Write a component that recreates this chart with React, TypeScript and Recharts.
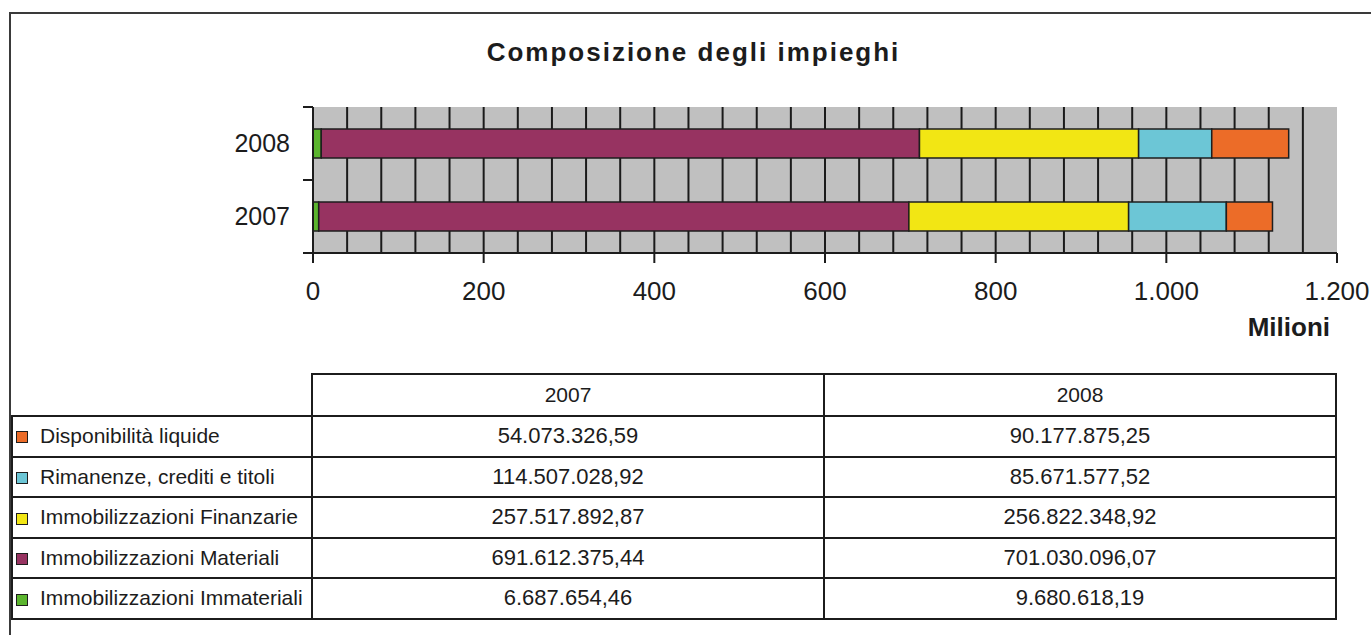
import React from 'react';
import { BarChart, Bar, XAxis, YAxis, CartesianGrid } from 'recharts';

const FONT = '"Liberation Sans", Arial, Helvetica, sans-serif';

// ---- data ----
const years = ['2007', '2008'];
const immateriali = [6687654.46, 9680618.19];
const materiali = [691612375.44, 701030096.07];
const finanziarie = [257517892.87, 256822348.92];
const rimanenze = [114507028.92, 85671577.52];
const disponibilita = [54073326.59, 90177875.25];

const seriesKeys = ['immateriali', 'materiali', 'finanziarie', 'rimanenze', 'disponibilita'];
const seriesNames = [
  'Immobilizzazioni Immateriali',
  'Immobilizzazioni Materiali',
  'Immobilizzazioni Finanzarie',
  'Rimanenze, crediti e titoli',
  'Disponibilità liquide',
];
const seriesValues = [immateriali, materiali, finanziarie, rimanenze, disponibilita];
const seriesColors = ['#5bb52e', '#973361', '#f2e614', '#6cc6d6', '#ec6c28'];

const xTicks = [0, 200, 400, 600, 800, 1000, 1200];
const gridTicks = [40, 80, 120, 160, 200, 240, 280, 320, 360, 400, 440, 480, 520, 560, 600, 640, 680, 720, 760, 800, 840, 880, 920, 960, 1000, 1040, 1080, 1120, 1160];

const title = 'Composizione degli impieghi';
const unitLabel = 'Milioni';

// chart data (values in millions)
const chartData = years.map((y, i) => {
  const row: any = { year: y };
  seriesKeys.forEach((k, s) => {
    row[k] = seriesValues[s][i] / 1e6;
  });
  return row;
});

const groupThousands = (s: string) => s.replace(/\B(?=(\d{3})+(?!\d))/g, '.');
const fmtTick = (v: number) => groupThousands(String(v));
const fmtEuro = (v: number) => {
  const [int, dec] = v.toFixed(2).split('.');
  return groupThousands(int) + ',' + dec;
};

const INK = '#1c1c1c';

const gridGenerator = (props: any) => {
  const sc = props && props.xAxis ? props.xAxis.scale : null;
  if (!sc) return [];
  const f = typeof sc === 'function' ? (v: number) => sc(v) : (v: number) => sc.map(v);
  return gridTicks.map((t) => f(t));
};

// category tick: label plus tick marks at the band boundaries
const YearTick = (props: any) => {
  const { x, y, payload } = props;
  const half = payload && payload.offset ? payload.offset : 0;
  const axisX = x + 23; // x is label anchor (axis - tickSize - tickMargin)
  return (
    <g>
      {half > 0 && (
        <>
          <line x1={axisX - 10} x2={axisX} y1={y - half} y2={y - half} stroke={INK} strokeWidth={2} />
          <line x1={axisX - 10} x2={axisX} y1={y + half} y2={y + half} stroke={INK} strokeWidth={2} />
        </>
      )}
      <text x={x} y={y} dy="0.355em" textAnchor="end" fontSize={25} fill={INK} fontFamily={FONT}>
        {payload.value}
      </text>
    </g>
  );
};

export default function App() {
  // table layout
  const tLeft = 12;
  const c1 = 312;
  const c2 = 824;
  const tRight = 1336;
  const headTop = 374;
  const headH = 42;
  const rowH = 40.6;
  const tableRows = [4, 3, 2, 1, 0]; // series index, top to bottom
  const rowTop = (r: number) => headTop + headH + r * rowH;
  const tBottom = rowTop(tableRows.length);
  const line = 2;

  const hLine = (y: number, x1: number, x2: number, key: string) => (
    <div key={key} style={{ position: 'absolute', left: x1 - 1, top: y - 1, width: x2 - x1 + 2, height: line, background: INK }} />
  );
  const vLine = (x: number, y1: number, y2: number, key: string) => (
    <div key={key} style={{ position: 'absolute', left: x - 1, top: y1 - 1, width: line, height: y2 - y1 + 2, background: INK }} />
  );

  return (
    <div style={{ position: 'absolute', left: 0, top: 0, width: 1371, height: 635, background: '#fff', fontFamily: FONT, overflow: 'hidden', color: INK }}>
      {/* outer frame */}
      <div style={{ position: 'absolute', left: 9, top: 12, width: 1400, height: 700, borderLeft: '2px solid #3a3a3a', borderTop: '2px solid #3a3a3a' }} />

      {/* title */}
      <div style={{ position: 'absolute', left: 0, width: 1387, top: 39, textAlign: 'center', fontSize: 26, lineHeight: '26px', fontWeight: 'bold', letterSpacing: 2, whiteSpace: 'nowrap' }}>
        {title}
      </div>

      <div style={{ position: 'absolute', left: 0, top: 0 }}>
        <BarChart
          width={1371}
          height={330}
          data={chartData}
          layout="vertical"
          margin={{ top: 107, right: 34, bottom: 0, left: 0 }}
          barCategoryGap="30%"
        >
          <CartesianGrid
            xAxisId="main"
            yAxisId="cat"
            horizontal={false}
            vertical={true}
            verticalCoordinatesGenerator={gridGenerator}
            fill="#c0c0c0"
            fillOpacity={1}
            stroke="#1a1a1a"
            strokeWidth={2}
          />
          <XAxis
            xAxisId="main"
            type="number"
            domain={[0, 1200]}
            ticks={xTicks}
            interval={0}
            tickFormatter={fmtTick}
            height={77}
            tickSize={10}
            tickMargin={19}
            axisLine={{ stroke: INK, strokeWidth: 2 }}
            tickLine={{ stroke: INK, strokeWidth: 2 }}
            tick={{ fontSize: 26, fill: INK, fontFamily: FONT }}
          />
          <YAxis
            yAxisId="cat"
            type="category"
            dataKey="year"
            reversed
            width={313}
            tickLine={false}
            tickSize={10}
            tickMargin={13}
            axisLine={{ stroke: INK, strokeWidth: 2 }}
            tick={<YearTick />}
          />
          {seriesKeys.map((k, s) => (
            <Bar
              key={k}
              dataKey={k}
              name={seriesNames[s]}
              stackId="a"
              xAxisId="main"
              yAxisId="cat"
              fill={seriesColors[s]}
              stroke="#1e1e1e"
              strokeWidth={1.5}
              isAnimationActive={false}
            />
          ))}
        </BarChart>
      </div>

      {/* unit label */}
      <div style={{ position: 'absolute', right: 41, top: 314, fontSize: 26, lineHeight: '26px', fontWeight: 'bold', whiteSpace: 'nowrap' }}>
        {unitLabel}
      </div>

      {/* data table */}
      {hLine(headTop, c1, tRight, 'h-top')}
      {[0, 1, 2, 3, 4, 5].map((r) => hLine(rowTop(r), tLeft, tRight, 'h' + r))}
      {vLine(tLeft, rowTop(0), tBottom, 'v0')}
      {vLine(c1, headTop, tBottom, 'v1')}
      {vLine(c2, headTop, tBottom, 'v2')}
      {vLine(tRight, headTop, tBottom, 'v3')}

      {years.map((y, i) => (
        <div key={'hd' + y} style={{ position: 'absolute', left: i === 0 ? c1 : c2, width: i === 0 ? c2 - c1 : tRight - c2, top: headTop, height: headH, lineHeight: headH + 'px', textAlign: 'center', fontSize: 21 }}>
          {y}
        </div>
      ))}

      {tableRows.map((s, r) => (
        <React.Fragment key={'row' + s}>
          <div style={{ position: 'absolute', left: tLeft + 4, top: rowTop(r) + rowH / 2 - 5, width: 12, height: 12, boxSizing: 'border-box', background: seriesColors[s], border: '1.5px solid #1e1e1e' }} />
          <div style={{ position: 'absolute', left: 40, top: rowTop(r), height: rowH, lineHeight: rowH + 'px', fontSize: 21, whiteSpace: 'nowrap' }}>
            {seriesNames[s]}
          </div>
          {years.map((y, i) => (
            <div key={y} style={{ position: 'absolute', left: i === 0 ? c1 : c2, width: i === 0 ? c2 - c1 : tRight - c2, top: rowTop(r), height: rowH, lineHeight: rowH + 'px', textAlign: 'center', fontSize: 22 }}>
              {fmtEuro(seriesValues[s][i])}
            </div>
          ))}
        </React.Fragment>
      ))}
    </div>
  );
}
